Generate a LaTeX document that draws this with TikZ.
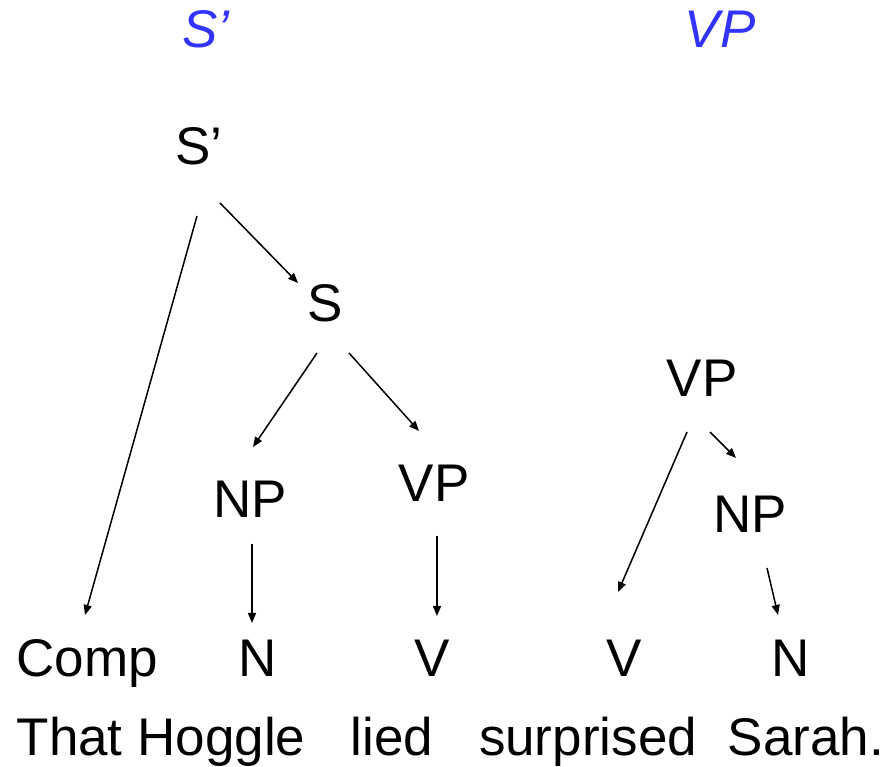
\documentclass[tikz,border=0pt]{standalone}
\usepackage{fontspec}
\setmainfont{Liberation Sans}
\usetikzlibrary{arrows.meta,calc}
\definecolor{hdblue}{RGB}{51,51,255}
\begin{document}
\begin{tikzpicture}[x=1pt,y=1pt,
  lbl/.style={anchor=base,inner sep=0pt,font=\fontsize{53}{60}\selectfont},
  hdr/.style={lbl,text=hdblue,font=\fontsize{53}{60}\selectfont\itshape},
  arr/.style={line width=1.5pt,-{Triangle[length=10pt,width=8pt]}}]
\useasboundingbox (0,0) rectangle (885,767);
% headings
\node[hdr] (h1) at (206,719) {S’};
\node[hdr] (h2) at (720,719) {VP};
% tree nodes
\node[lbl] (Sp) at (199,602) {S’};
\node[lbl] (S) at (325,445) {S};
\node[lbl] (NP) at (250,249) {NP};
\node[lbl] (VP) at (434,265) {VP};
\node[lbl] (VPr) at (702,370) {VP};
\node[lbl] (NPr) at (750,234) {NP};
\node[lbl] (Comp) at (87,90) {Comp};
\node[lbl] (N1) at (258,90) {N};
\node[lbl] (V1) at (432,90) {V};
\node[lbl] (V2) at (624,90) {V};
\node[lbl] (N2) at (791,90) {N};
% words
\node[lbl] (w1) at (161,11) {That Hoggle};
\node[lbl] (w2) at (392,11) {lied};
\node[lbl] (w3) at (588,11) {surprised};
\node[lbl] (w4) at (806,11) {Sarah.};
% connectors
\draw[arr] ($(Sp.base)+(-2,-51)$) -- ($(Comp.base)+(-2,62)$);
\draw[arr] ($(Sp.base)+(21,-38)$) -- ($(S.base)+(-27,39)$);
\draw[arr] ($(S.base)+(-8,-31)$) -- ($(NP.base)+(3,71)$);
\draw[arr] ($(S.base)+(24,-31)$) -- ($(VP.base)+(-15,71)$);
\draw[arr] ($(NP.base)+(2,-26)$) -- ($(N1.base)+(-6,54)$);
\draw[arr] ($(VP.base)+(3,-34)$) -- ($(V1.base)+(5,61)$);
\draw[arr] ($(VPr.base)+(-15,-35)$) -- ($(V2.base)+(-6,85)$);
\draw[arr] ($(VPr.base)+(8,-35)$) -- ($(NPr.base)+(-14,75)$);
\draw[arr] ($(NPr.base)+(17,-35)$) -- ($(N2.base)+(-13,62)$);
\end{tikzpicture}
\end{document}
